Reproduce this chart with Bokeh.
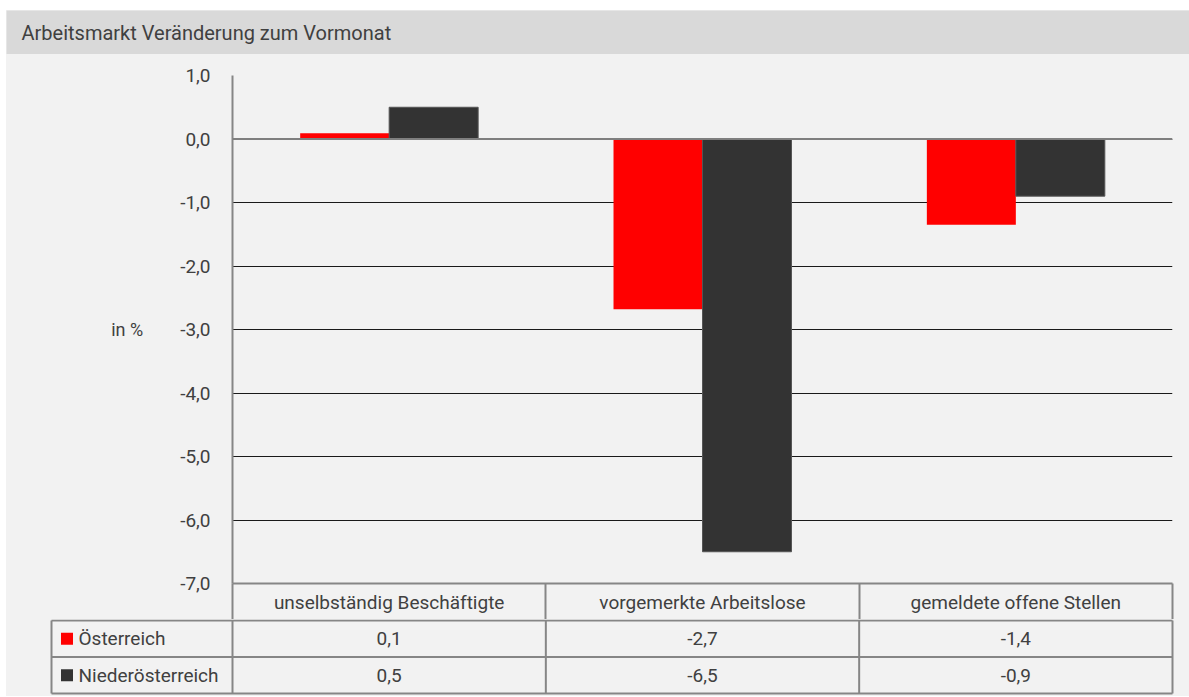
from bokeh.plotting import figure
from bokeh.layouts import column
from bokeh.models import Range1d, FixedTicker, CustomJSTickFormatter, Span, ColumnDataSource
from bokeh.core.properties import value
from bokeh.embed import file_html
from bokeh.resources import INLINE

# ---------------- data ----------------
title_text = "Arbeitsmarkt Veränderung zum Vormonat"
categories = ["unselbständig Beschäftigte", "vorgemerkte Arbeitslose", "gemeldete offene Stellen"]
series_names = ["Österreich", "Niederösterreich"]
oesterreich = [0.09, -2.68, -1.35]
niederoesterreich = [0.5, -6.5, -0.9]
y_ticks = [1, 0, -1, -2, -3, -4, -5, -6, -7]
y_label = "in %"
colors = ["#ff0000", "#333333"]
outline_colors = [None, "#555555"]

# ---------------- style / layout ----------------
FONT_NAME = "Roboto"
FONT = value(FONT_NAME)
FS = "19px"
TXT = "#404040"
BG = "#f2f2f2"
LINE = "#868686"
W = 1183
BORDER_L, BORDER_R = 226, 17
FRAME_W = W - BORDER_L - BORDER_R
N = len(categories)
PPU = FRAME_W / N           # pixels per category unit
BAR_W = 0.284
HEAD_H = 36
ROW_H = 36.5

fmt_de = lambda v: f"{v:.1f}".replace(".", ",")
series = [oesterreich, niederoesterreich]

common = dict(output_backend="svg", toolbar_location=None, frame_align=False)

# ---------------- title bar ----------------
tfig = figure(width=W, height=44, x_range=Range1d(0, W), y_range=Range1d(0, 44),
              min_border=0, min_border_left=0, min_border_right=0,
              min_border_top=0, min_border_bottom=0,
              x_axis_location=None, y_axis_location=None,
              background_fill_color="#d9d9d9", border_fill_color="#d9d9d9",
              outline_line_color=None, **common)
tfig.grid.visible = False
tfig.text(x=[15], y=[22], text=[title_text], text_font=FONT, text_font_size="20px",
          text_color=TXT, text_baseline="middle", text_align="left")

# ---------------- chart ----------------
chart = figure(width=W, height=21 + 508 + HEAD_H, x_range=Range1d(0, N),
               y_range=Range1d(min(y_ticks), max(y_ticks)),
               min_border_left=BORDER_L, min_border_right=BORDER_R,
               min_border_top=21, min_border_bottom=HEAD_H,
               background_fill_color=BG, border_fill_color=BG, outline_line_color=None,
               **common)

for k, (vals, col, oc) in enumerate(zip(series, colors, outline_colors)):
    xs = [i + 0.5 + (k - 0.5) * BAR_W for i in range(N)]
    src = ColumnDataSource(dict(x=xs, top=vals))
    chart.vbar(x="x", top="top", bottom=0, width=BAR_W, source=src,
               fill_color=col, line_color=oc, line_width=1)

chart.xgrid.visible = False
chart.ygrid.ticker = FixedTicker(ticks=y_ticks)
chart.ygrid.grid_line_color = "#1a1a1a"
chart.ygrid.grid_line_width = 1

chart.add_layout(Span(location=0, dimension="width", line_color="#7f7f7f", line_width=2))

yax = chart.yaxis[0]
yax.ticker = FixedTicker(ticks=y_ticks)
yax.formatter = CustomJSTickFormatter(code="return tick.toFixed(1).replace('.', ',')")
yax.major_tick_line_color = None
yax.major_tick_out = 0
yax.major_tick_in = 0
yax.minor_tick_line_color = None
yax.minor_tick_out = 0
yax.minor_tick_in = 0
yax.axis_line_color = LINE
yax.axis_line_width = 2
yax.major_label_standoff = 22
yax.major_label_text_font = FONT_NAME
yax.major_label_text_font_size = FS
yax.major_label_text_color = TXT
yax.axis_label = y_label
yax.axis_label_orientation = "horizontal"
yax.axis_label_standoff = 34
yax.axis_label_text_font = FONT_NAME
yax.axis_label_text_font_size = "18px"
yax.axis_label_text_font_style = "normal"
yax.axis_label_text_color = TXT

xax = chart.xaxis[0]
xax.ticker = FixedTicker(ticks=[i + 0.5 for i in range(N)], minor_ticks=list(range(N + 1)))
xax.formatter = CustomJSTickFormatter(args=dict(cats=categories),
                                      code="return cats[Math.floor(tick)]")
xax.major_tick_in = 0
xax.major_tick_out = 0
xax.minor_tick_in = 0
xax.minor_tick_out = HEAD_H
xax.minor_tick_line_color = LINE
xax.minor_tick_line_width = 2
xax.axis_line_color = LINE
xax.axis_line_width = 2
xax.major_label_standoff = 7 - HEAD_H
xax.major_label_text_font = FONT_NAME
xax.major_label_text_font_size = FS
xax.major_label_text_color = TXT

# ---------------- data table ----------------
TH = 77
leg_left = (51 - 232) / PPU
tbl = figure(width=W, height=TH, x_range=Range1d(-BORDER_L / PPU, N + BORDER_R / PPU),
             y_range=Range1d((TH - 1) / ROW_H, -1 / ROW_H),
             min_border=0, min_border_left=0, min_border_right=0,
             min_border_top=0, min_border_bottom=0,
             x_axis_location=None, y_axis_location=None,
             background_fill_color=BG, border_fill_color=BG, outline_line_color=None,
             **common)
tbl.grid.visible = False
nrows = len(series)
tbl.segment(x0=[leg_left] * (nrows + 1), x1=[N] * (nrows + 1),
            y0=list(range(nrows + 1)), y1=list(range(nrows + 1)),
            line_color=LINE, line_width=2)
vx = [leg_left] + list(range(N + 1))
tbl.segment(x0=vx, x1=vx, y0=[0] * len(vx), y1=[nrows] * len(vx),
            line_color=LINE, line_width=2)

tx, ty, tt = [], [], []
for r, vals in enumerate(series):
    for i, v in enumerate(vals):
        tx.append(i + 0.5)
        ty.append(r + 0.5)
        tt.append(fmt_de(v))
tbl.text(x=tx, y=ty, text=tt, text_font=FONT, text_font_size=FS, text_color=TXT,
         text_align="center", text_baseline="middle")

tbl.scatter(x=[(66.5 - 232) / PPU] * nrows, y=[r + 0.5 for r in range(nrows)], marker="square",
            size=12, fill_color=colors, line_color=None)
tbl.text(x=[(78 - 232) / PPU] * nrows, y=[r + 0.5 for r in range(nrows)], text=series_names,
         text_font=FONT, text_font_size=FS, text_color=TXT,
         text_align="left", text_baseline="middle")

layout = column(tfig, chart, tbl, spacing=0, margin=(10, 0, 0, 6),
                styles={"background-color": BG})
open("out.html", "w").write(file_html(layout, INLINE))
